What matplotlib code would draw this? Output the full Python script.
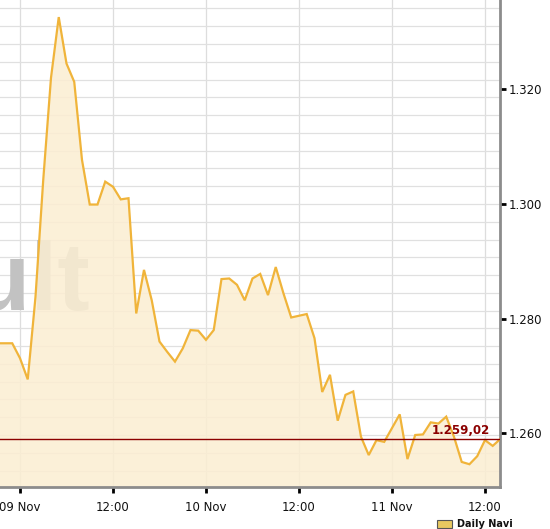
import matplotlib
matplotlib.use("Agg")
import matplotlib.pyplot as plt
import numpy as np
from matplotlib.patches import Rectangle

# hours since 09 Nov 00:00
hours = list(range(-3, 63))
prices = [1.2757, 1.2757, 1.2757, 1.2731, 1.2694, 1.2838, 1.3042, 1.3220, 1.3326, 1.3245,
          1.3213, 1.3077, 1.2999, 1.2999, 1.3039, 1.3030, 1.3008, 1.3010, 1.2809, 1.2885,
          1.2832, 1.2760, 1.2742, 1.2725, 1.2748, 1.2780, 1.2779, 1.2763, 1.2780, 1.2869,
          1.2870, 1.2859, 1.2832, 1.2870, 1.2878, 1.2841, 1.2890, 1.2844, 1.2802, 1.2805,
          1.2808, 1.2766, 1.2672, 1.2702, 1.2622, 1.2667, 1.2673, 1.2594, 1.2562, 1.2588,
          1.2585, 1.2609, 1.2633, 1.2555, 1.2597, 1.2598, 1.2619, 1.2617, 1.2629, 1.2594,
          1.2550, 1.2546, 1.2560, 1.2588, 1.2578, 1.25902]
last_price = 1.25902
last_label = "1.259,02"
x_ticks = [0, 12, 24, 36, 48, 60]
x_labels = ["09 Nov", "12:00", "10 Nov", "12:00", "11 Nov", "12:00"]
y_ticks = [1.260, 1.280, 1.300, 1.320]
y_labels = ["1.260", "1.280", "1.300", "1.320"]

W, H = 550, 529
fig = plt.figure(figsize=(W / 100, H / 100), dpi=100)
ax = fig.add_axes([0, 42 / H, 500 / W, 1 - 42 / H])

ylo, yhi = 1.25063, 1.33558
ax.set_xlim(-2.58, 61.94)
ax.set_ylim(ylo, yhi)

# grid
for xt in x_ticks:
    ax.axvline(xt, color="#dddddd", lw=0.9, zorder=1)
gy = np.arange(1.300 - 0.0031 * 20, yhi, 0.0031)
for g in gy:
    if g > ylo:
        ax.axhline(g, color="#e0e0e0", lw=0.9, zorder=1)

# watermark (under the fill)
ax.text(90 / W, 1 - 310 / H, "ult", transform=fig.transFigure, ha="right",
        va="baseline", fontsize=70, fontweight="bold", color="#c2c2c2", zorder=1.5,
        family="Liberation Sans", clip_on=False)

ax.fill_between(hours, prices, ylo, color="#fbeed2", alpha=0.86, lw=0, zorder=2)
ax.plot(hours, prices, color="#f0b43a", lw=1.6, zorder=4, solid_joinstyle="miter")

ax.axhline(last_price, color="#8b0000", lw=1.0, zorder=5)
ax.text(60.6, last_price + 0.0003, last_label, ha="right", va="bottom",
        fontsize=8.5, fontweight="bold", color="#8b0000", zorder=6)

ax.set_facecolor("none")
for s in ["left", "top"]:
    ax.spines[s].set_visible(False)
for s in ["right", "bottom"]:
    ax.spines[s].set_color("#8c8c8c")
    ax.spines[s].set_linewidth(2)
ax.yaxis.tick_right()
ax.set_xticks(x_ticks)
ax.set_xticklabels(x_labels)
ax.set_yticks(y_ticks)
ax.set_yticklabels(y_labels)
ax.tick_params(axis="both", direction="out", length=4, width=2, color="black",
               labelsize=8.5, labelcolor="#111111")
ax.tick_params(axis="x", pad=6)
ax.tick_params(axis="y", pad=2)

# bottom-right link
fig.patches.append(Rectangle((437 / W, 1 / H), 15 / W, 8 / H, transform=fig.transFigure,
                             facecolor="#e8c860", edgecolor="#555555", lw=0.8))
fig.text(457 / W, 1 - 519 / H, "Daily Navi", ha="left", va="top", fontsize=7,
         fontweight="bold", color="#111111")

fig.savefig("out.png", dpi=100)
